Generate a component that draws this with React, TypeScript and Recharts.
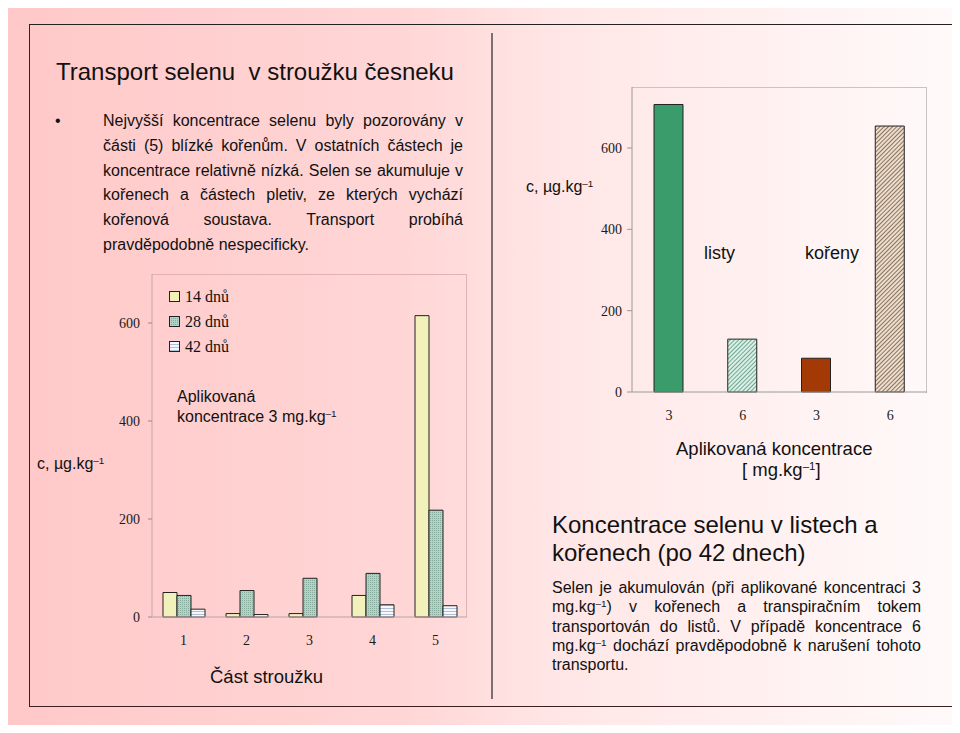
import React from 'react';
import { BarChart, Bar, XAxis, YAxis, Legend, Cell } from 'recharts';

// levý graf: části stroužku, tři doby expozice
const parts = ['1', '2', '3', '4', '5'];
const days14 = [50, 7, 7, 44, 615];
const days28 = [44, 54, 79, 89, 218];
const days42 = [16, 5, 0, 25, 23];
const partTicks = [0, 200, 400, 600];

// pravý graf: listy / kořeny po 42 dnech
const concLabels = ['3', '6', '3', '6'];
const concOrgans = ['listy', 'listy', 'kořeny', 'kořeny'];
const concValues = [707, 130, 83, 654];
const concTicks = [0, 200, 400, 600];

const SANS = '"Liberation Sans", Arial, sans-serif';
const SERIF = '"Liberation Serif", "Times New Roman", serif';

const seriesFills: Record<string, string> = {
  d14: '#f3f1bb',
  d28: 'url(#pat28)',
  d42: 'url(#pat42)',
};
const concFills = ['#3a9b6b', 'url(#hatchTeal)', '#a33a06', 'url(#hatchTan)'];

const partData = parts.map((p, i) => ({
  part: p,
  d14: days14[i],
  d28: days28[i],
  d42: days42[i],
}));

const concData = concValues.map((v, i) => ({
  id: `${concOrgans[i]}-${concLabels[i]}`,
  value: v,
}));

const Sup = () => (
  <sup style={{ fontSize: '0.62em', lineHeight: 0, verticalAlign: '0.55em' }}>–1</sup>
);

const PartLegend = ({ payload }: any) => (
  <div style={{ fontFamily: SERIF, fontSize: 16, color: '#111' }}>
    {(payload || []).map((entry: any) => (
      <div key={entry.value} style={{ display: 'flex', alignItems: 'center', height: 25 }}>
        <svg width={12} height={12} style={{ marginRight: 4 }}>
          <rect x={0.5} y={0.5} width={10} height={10} fill={seriesFills[entry.dataKey]} stroke="#222" />
        </svg>
        <span>{entry.value}</span>
      </div>
    ))}
  </div>
);

const Txt = ({ left, top, size, lh, children, style }: any) => (
  <div
    style={{
      position: 'absolute',
      left,
      top,
      fontFamily: SANS,
      fontSize: size,
      lineHeight: `${lh}px`,
      color: '#111',
      whiteSpace: 'nowrap',
      ...style,
    }}
  >
    {children}
  </div>
);

const JLine = ({ children, last }: any) => (
  <div style={{ textAlign: 'justify', textAlignLast: last ? 'left' : 'justify', whiteSpace: 'normal' }}>
    {children}
  </div>
);

const axisTick = { fontFamily: SERIF, fontSize: 14, fill: '#1a1a1a' };

export default function App() {
  return (
    <div style={{ position: 'relative', width: 960, height: 733, margin: -8, background: '#fff', overflow: 'hidden' }}>
      <div
        style={{
          position: 'absolute',
          left: 3,
          top: 0,
          width: 954,
          height: 728,
          background: 'linear-gradient(to right, #ffc8c8 0%, #ffd6d6 42%, #ffe6e6 58%, #fffafa 100%)',
        }}
      />
      {/* rámeček snímku */}
      <div
        style={{
          position: 'absolute',
          left: 29,
          top: 24,
          width: 924,
          height: 681,
          borderTop: '1.5px solid #222',
          borderLeft: '1.5px solid #3a2020',
          borderBottom: '1.5px solid #3a2020',
          borderRight: '2px solid #666',
        }}
      />
      <div style={{ position: 'absolute', left: 491, top: 33, width: 2, height: 666, background: '#7a7070' }} />

      <Txt left={56} top={60} size={24} lh={24} style={{ whiteSpace: 'pre' }}>
        Transport selenu  v stroužku česneku
      </Txt>

      <Txt left={55} top={109} size={16} lh={24.8}>•</Txt>
      <Txt left={103} top={109} size={16} lh={24.8} style={{ width: 360, whiteSpace: 'normal' }}>
        <JLine>Nejvyšší koncentrace selenu byly pozorovány v</JLine>
        <JLine>části (5) blízké kořenům. V ostatních částech je</JLine>
        <JLine>koncentrace relativně nízká. Selen se akumuluje v</JLine>
        <JLine>kořenech a částech pletiv, ze kterých vychází</JLine>
        <JLine>kořenová soustava. Transport probíhá</JLine>
        <JLine last>pravděpodobně nespecificky.</JLine>
      </Txt>

      {/* levý graf */}
      <div style={{ position: 'absolute', left: 152, top: 274, width: 314, height: 342, border: '1px solid #e2b2b2', borderLeft: 'none', borderBottom: 'none' }} />
      <div style={{ position: 'absolute', left: 100, top: 260 }}>
        <BarChart width={380} height={440} data={partData} margin={{ top: 14, right: 13, left: 0, bottom: 53 }} barGap={0} barSize={14}>
          <defs>
            <pattern id="pat28" width={2} height={2} patternUnits="userSpaceOnUse">
              <rect width={2} height={2} fill="#b0d3c6" />
              <rect width={1} height={1} fill="#88ad9f" />
            </pattern>
            <pattern id="pat42" width={4} height={3} patternUnits="userSpaceOnUse">
              <rect width={4} height={3} fill="#f6f8fc" />
              <rect width={4} height={1} fill="#aebfda" />
            </pattern>
          </defs>
          <XAxis
            dataKey="part"
            axisLine={{ stroke: '#b8a4a4' }}
            tickLine={false}
            tick={axisTick}
            tickMargin={12}
            height={30}
          />
          <YAxis
            domain={[0, 700]}
            ticks={partTicks}
            width={52}
            axisLine={{ stroke: '#c9a9a9' }}
            tickLine={{ stroke: '#a08888' }}
            tickSize={4}
            tickMargin={8}
            tick={axisTick}
          />
          <Legend
            layout="vertical"
            align="center"
            verticalAlign="middle"
            content={<PartLegend />}
            wrapperStyle={{ left: 69, top: 24.5, width: 90, height: 75 }}
          />
          <Bar dataKey="d14" name="14 dnů" fill={seriesFills.d14} stroke="#222" isAnimationActive={false} />
          <Bar dataKey="d28" name="28 dnů" fill={seriesFills.d28} stroke="#222" isAnimationActive={false} />
          <Bar dataKey="d42" name="42 dnů" fill={seriesFills.d42} stroke="#222" isAnimationActive={false} />
        </BarChart>
      </div>
      <Txt left={177} top={387} size={16} lh={20}>
        Aplikovaná
        <br />
        koncentrace 3 mg.kg<Sup />
      </Txt>
      <Txt left={210} top={665.6} size={18.5} lh={22}>Část stroužku</Txt>
      <Txt left={37} top={454} size={16} lh={19}>
        c, µg.kg<Sup />
      </Txt>

      {/* pravý graf */}
      <div style={{ position: 'absolute', left: 632, top: 87, width: 294, height: 305, border: '1px solid #c8c4c4', borderLeft: 'none', borderBottom: 'none' }} />
      <div style={{ position: 'absolute', left: 520, top: 70 }}>
        <BarChart width={420} height={400} data={concData} margin={{ top: 17, right: 13, left: 0, bottom: 48 }} barSize={29}>
          <defs>
            <pattern id="hatchTeal" width={3} height={3} patternUnits="userSpaceOnUse" patternTransform="rotate(45)">
              <rect width={3} height={3} fill="#dbefe7" />
              <rect width={1} height={3} fill="#6fa892" />
            </pattern>
            <pattern id="hatchTan" width={3} height={3} patternUnits="userSpaceOnUse" patternTransform="rotate(45)">
              <rect width={3} height={3} fill="#ecdecf" />
              <rect width={1} height={3} fill="#8c735c" />
            </pattern>
          </defs>
          <XAxis
            dataKey="id"
            tickFormatter={(_v: any, i: number) => concLabels[i]}
            axisLine={{ stroke: '#9a9a9a' }}
            tickLine={false}
            tick={axisTick}
            tickMargin={12}
            height={30}
          />
          <YAxis
            domain={[0, 750]}
            ticks={concTicks}
            width={112}
            axisLine={{ stroke: '#9a9a9a' }}
            tickLine={{ stroke: '#9a9a9a' }}
            tickSize={5}
            tickMargin={5}
            tick={axisTick}
          />
          <Bar dataKey="value" stroke="#222" isAnimationActive={false}>
            {concData.map((d, i) => (
              <Cell key={d.id} fill={concFills[i]} />
            ))}
          </Bar>
        </BarChart>
      </div>
      <Txt left={526} top={177} size={16} lh={19}>
        c, µg.kg<Sup />
      </Txt>
      <Txt left={704} top={242} size={18} lh={22}>listy</Txt>
      <Txt left={805} top={242} size={18} lh={22}>kořeny</Txt>
      <Txt left={676} top={437.6} size={18.5} lh={22}>Aplikovaná koncentrace</Txt>
      <Txt left={742} top={458.6} size={18.5} lh={22}>
        [ mg.kg<Sup />]
      </Txt>

      <Txt left={552} top={511} size={24} lh={28}>
        Koncentrace selenu v listech a
        <br />
        kořenech (po 42 dnech)
      </Txt>
      <Txt left={552} top={578} size={16} lh={19.3} style={{ width: 369, whiteSpace: 'normal' }}>
        <JLine>Selen je akumulován (při aplikované koncentraci 3</JLine>
        <JLine>
          mg.kg<Sup />) v kořenech a transpiračním tokem
        </JLine>
        <JLine>transportován do listů. V případě koncentrace 6</JLine>
        <JLine>
          mg.kg<Sup /> dochází pravděpodobně k narušení tohoto
        </JLine>
        <JLine last>transportu.</JLine>
      </Txt>
    </div>
  );
}
